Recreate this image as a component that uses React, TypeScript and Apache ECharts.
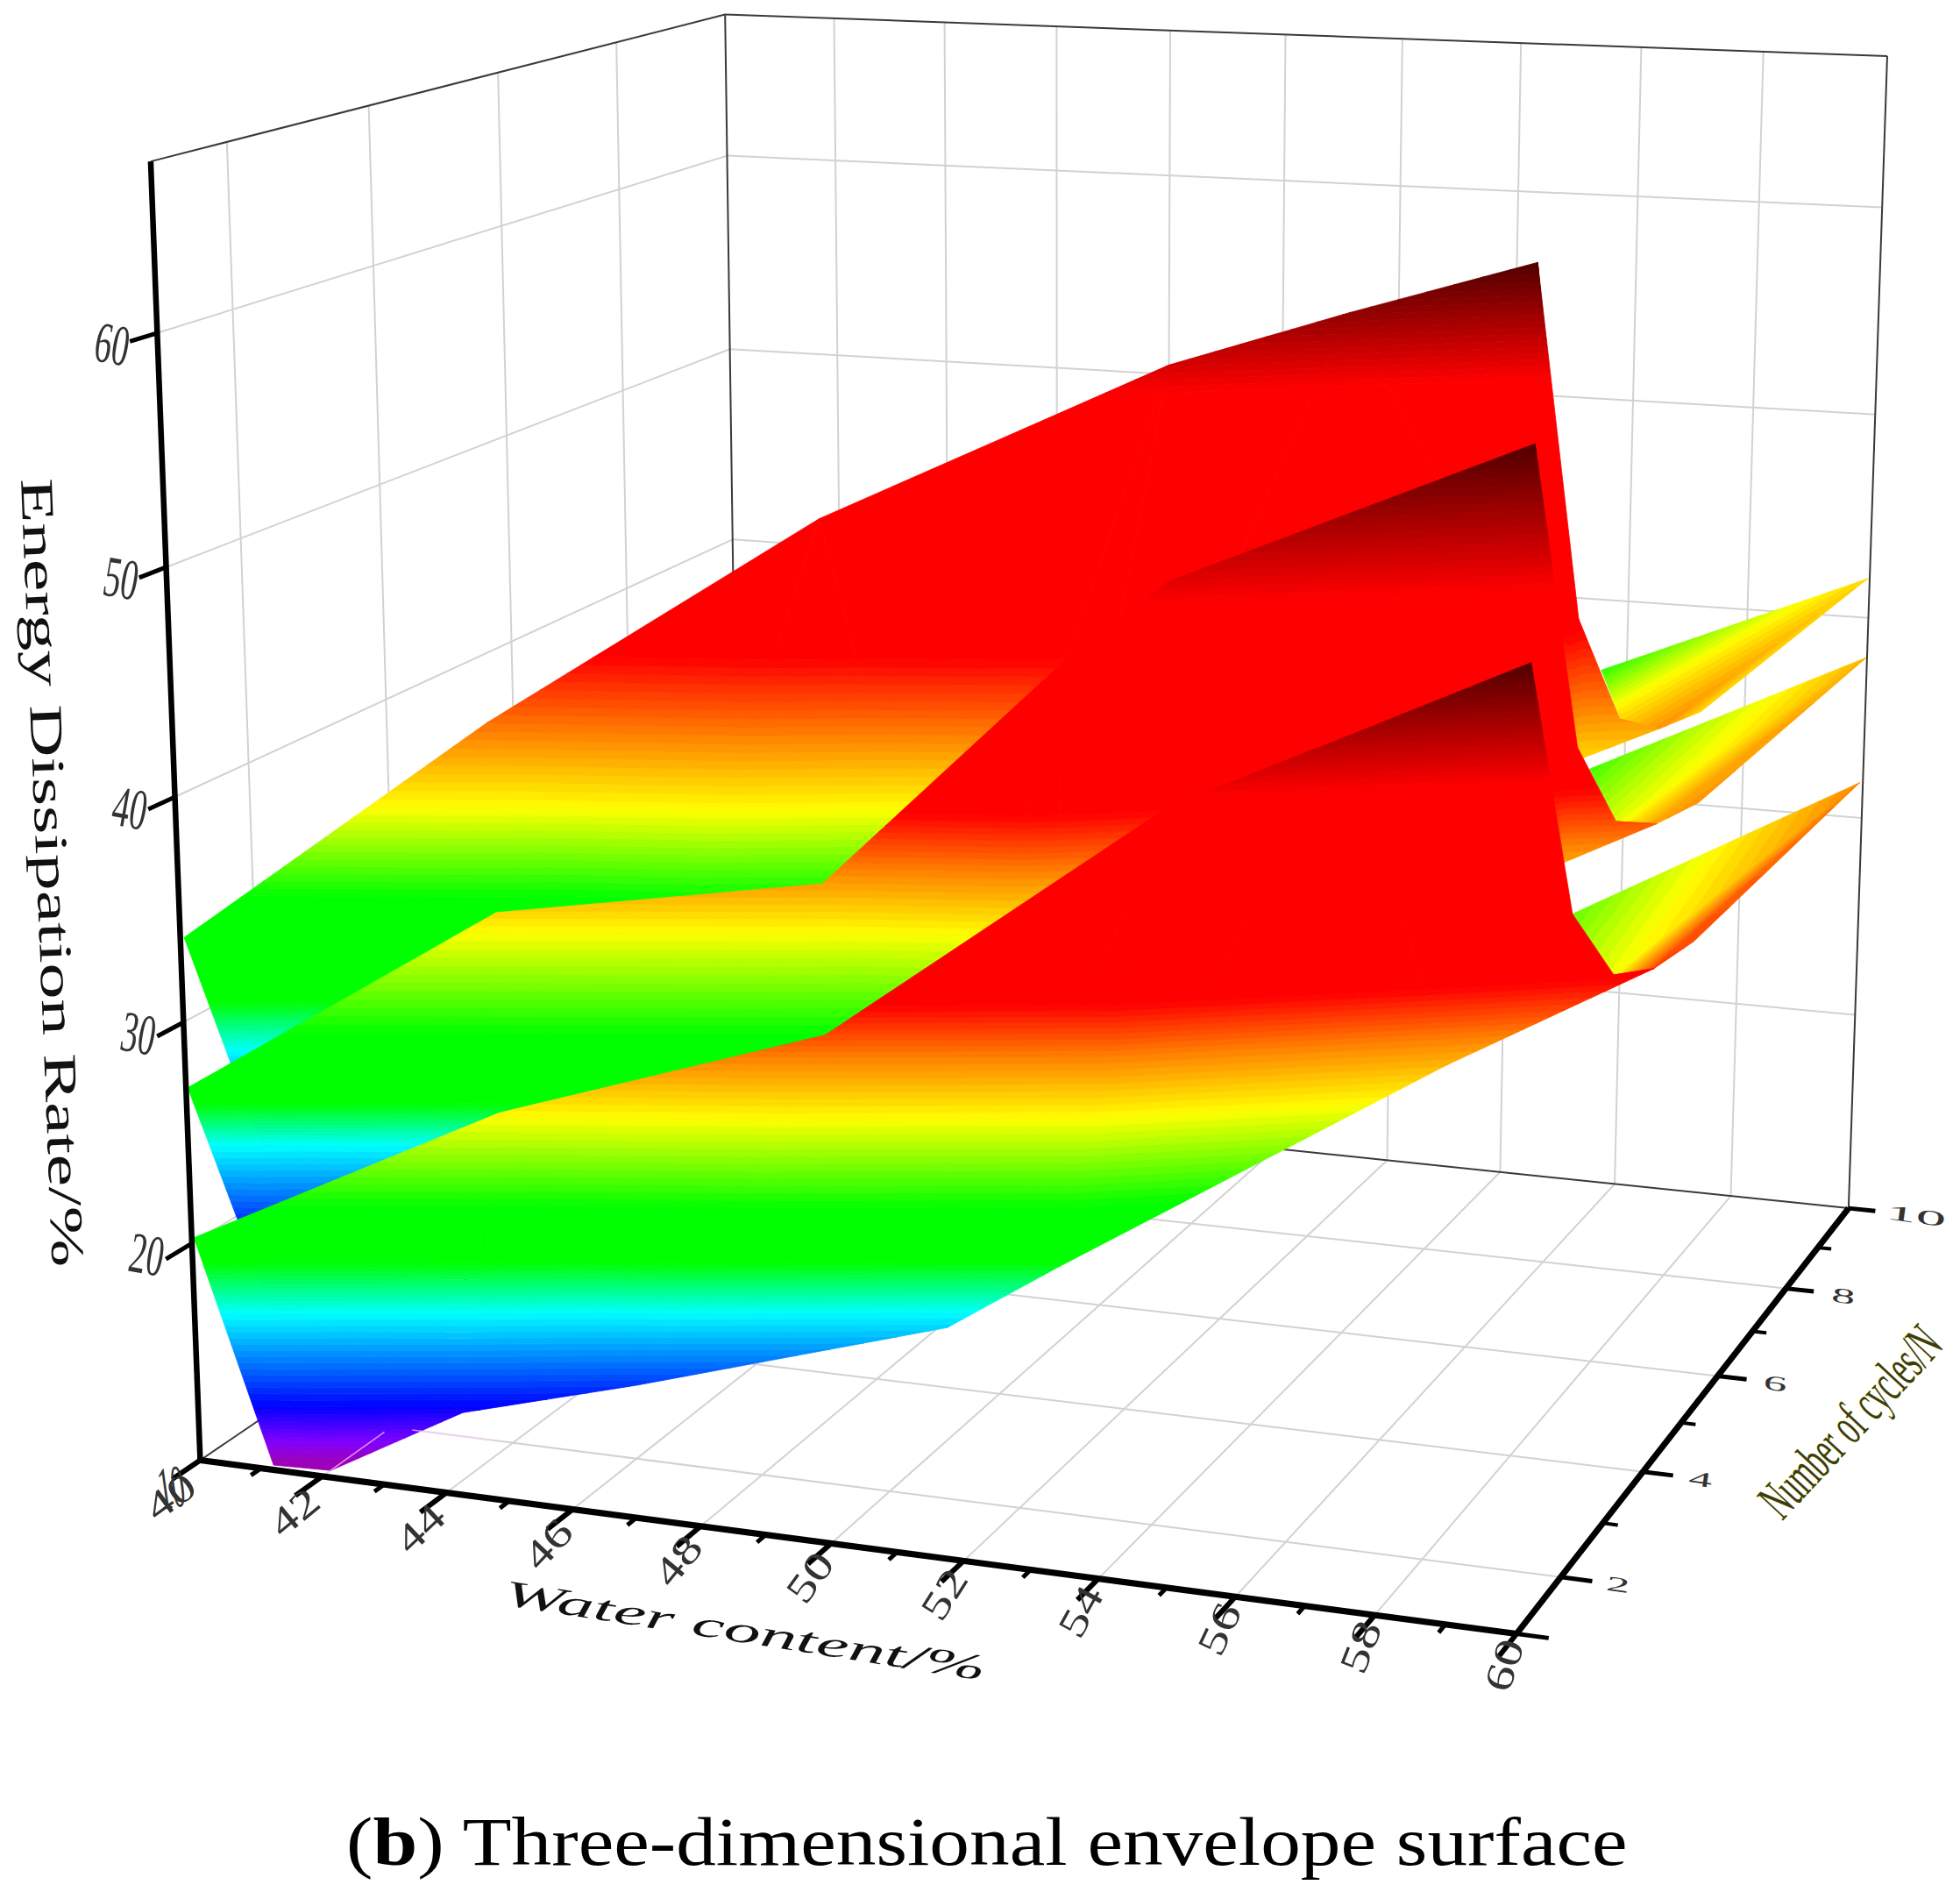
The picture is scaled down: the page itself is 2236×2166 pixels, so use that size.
import React, { useEffect, useRef } from "react";
import * as echarts from "echarts";

const VIEW_W = 1568, VIEW_H = 1519;
const WATER_MIN = 40, WATER_MAX = 60, N_MIN = 1, N_MAX = 10, E_MIN = 10, E_MAX = 67.2;

const waterTicks = [42, 44, 46, 48, 50, 52, 54, 56, 58];
const waterLabels = [40, 42, 44, 46, 48, 50, 52, 54, 56, 58, 60];
const waterMinor = [41, 43, 45, 47, 49, 51, 53, 55, 57, 59];
const cycleTicks = [2, 4, 6, 8];
const cycleLabels = [2, 4, 6, 8, 10];
const cycleMinor = [3, 5, 7, 9];
const energyTicks = [20, 30, 40, 50, 60];

// [water content %, number of cycles, energy dissipation rate %]
const frontTop = [[39.90,1.11,20.0],[44.10,1.83,25.6],[48.60,2.50,29.2],[53.23,3.28,39.3],[55.51,3.86,42.1],[57.82,4.43,45.0],[58.37,4.66,33.6],[58.91,4.83,30.7]];
const frontBottom = [[40.98,1.19,9.7],[41.79,1.30,9.5],[43.60,1.63,12.1],[45.99,2.05,13.3],[50.24,2.76,15.9],[51.72,3.00,18.6],[56.76,4.26,27.0],[59.43,4.96,30.9]];
const frontTail = [[59.72,10.47,31.0],[55.87,8.83,26.0],[58.14,6.14,28.2],[59.85,4.21,32.3],[59.99,5.01,32.2]];
const midTop = [[39.88,1.12,26.8],[44.18,1.78,34.7],[48.61,2.47,36.0],[52.01,2.79,46.0],[53.36,3.08,49.4],[58.00,4.13,54.9],[58.41,4.63,41.1],[58.92,4.78,37.7]];
const midBottom = [[40.97,1.26,16.6],[42.05,1.42,17.2],[43.57,1.71,19.4],[46.01,2.08,20.6],[50.23,2.79,23.1],[51.71,3.02,27.3],[58.23,4.64,35.9],[59.44,4.92,37.5]];
const midTail = [[59.75,10.49,37.3],[55.74,9.44,32.3],[58.00,6.37,35.0],[59.54,4.74,37.8],[59.86,5.28,38.0]];
const backTop = [[39.94,1.10,33.6],[44.26,1.64,43.3],[49.00,2.06,52.5],[53.74,2.58,59.2],[55.97,3.10,61.2],[58.29,3.64,63.1],[58.44,4.54,46.9],[58.95,4.76,42.3]];
const backBottom = [[40.89,1.27,24.0],[42.06,1.49,24.5],[43.61,1.74,26.2],[45.99,2.13,27.3],[50.24,2.80,30.7],[51.70,3.02,32.5],[58.48,4.67,40.6],[59.46,4.88,41.8]];
const backTail = [[59.71,10.53,41.2],[55.75,9.70,36.9],[58.55,5.46,41.2],[59.93,4.06,43.1],[59.55,5.85,41.2]];

// colour scale of each sheet: energy level at which each stop colour is reached
const stopColors = ["#a000b0","#8000ff","#0000ff","#00ffff","#00ff00","#00ff00","#ffff00","#ff8000","#ff0000","#ff0000","#500000"];
const stopSteps = [4,9,15,12,1,12,9,9,1,18];
const frontLevels = [9.8,10.8,12.4,16.6,18.9,21.4,25.4,28.2,30.5,39.6,45];
const midLevels = [16.5,18,20,24.2,26.1,29.3,33.8,36.7,39.2,48.4,54.9];
const backLevels = [21,23,25.1,28.5,30.7,35.5,39.5,42.9,46.3,58,63.1];
const frontTailLevels = frontLevels.map(v => v + 3);
const midTailLevels = midLevels.map(v => v + 1.8);
const backTailLevels = backLevels.map(v => v + 0.7);

// how the 3D box sits on the page: [water, cycles, energy, pageX, pageY]
const viewAnchors = [
  [40, 1, 10, 162, 1167], [60, 1, 10, 1213, 1306], [60, 10, 10, 1480, 966], [40, 10, 10, 590, 874],
  [40, 1, 67.2, 118, 127], [60, 10, 67.2, 1509, 45], [40, 10, 67.2, 582, 12], [40, 1, 60, 127, 268],
  [50, 1, 10, 665, 1237], [60, 6, 10, 1375, 1101], [60, 3, 10, 1281, 1218],
];

type V = number[];
const nu = (x: number) => (x - WATER_MIN) / (WATER_MAX - WATER_MIN);
const nv = (n: number) => (n - N_MIN) / (N_MAX - N_MIN);
const nw = (z: number) => (z - E_MIN) / (E_MAX - E_MIN);

function solveLinear(A: number[][], b: number[]) {
  const n = b.length; const M = A.map((r, i) => [...r, b[i]]);
  for (let c = 0; c < n; c++) {
    let p = c; for (let r = c + 1; r < n; r++) if (Math.abs(M[r][c]) > Math.abs(M[p][c])) p = r;
    [M[c], M[p]] = [M[p], M[c]];
    for (let r = 0; r < n; r++) if (r !== c) { const f = M[r][c] / M[c][c]; for (let k = c; k <= n; k++) M[r][k] -= f * M[c][k]; }
  }
  return M.map((r, i) => r[n] / r[i]);
}
function fitView() {
  const rows: number[][] = [], rhs: number[] = [];
  for (const [x, n, z, sx, sy] of viewAnchors) {
    const u = nu(x), v = nv(n), w = nw(z);
    rows.push([u,v,w,1,0,0,0,0,-sx*u,-sx*v,-sx*w]); rhs.push(sx);
    rows.push([0,0,0,0,u,v,w,1,-sy*u,-sy*v,-sy*w]); rhs.push(sy);
  }
  const ATA = Array.from({length:11},(_, i)=>Array.from({length:11},(_, j)=>rows.reduce((s,r)=>s+r[i]*r[j],0)));
  const ATb = Array.from({length:11},(_, i)=>rows.reduce((s,r,k)=>s+r[i]*rhs[k],0));
  return solveLinear(ATA, ATb);
}
const P = fitView();
function proj(x: number, n: number, z: number) {
  const u = nu(x), v = nv(n), w = nw(z);
  const d = P[8]*u + P[9]*v + P[10]*w + 1;
  return [(P[0]*u+P[1]*v+P[2]*w+P[3])/d, (P[4]*u+P[5]*v+P[6]*w+P[7])/d];
}

function hex(c: string) { return [1,3,5].map(i => parseInt(c.slice(i,i+2),16)); }
function makeBands(levels: number[]) {
  const out: { lo: number; hi: number; color: string }[] = [];
  stopSteps.forEach((steps, i) => {
    const a = hex(stopColors[i]), b = hex(stopColors[i+1]);
    for (let s = 0; s < steps; s++) {
      const t = (s + 0.5) / steps;
      const c = a.map((v, k) => Math.round(v + (b[k]-v)*t));
      out.push({ lo: levels[i] + (levels[i+1]-levels[i])*s/steps, hi: levels[i] + (levels[i+1]-levels[i])*(s+1)/steps, color: `rgb(${c.join(",")})` });
    }
  });
  out[0].lo = -Infinity; out[out.length-1].hi = Infinity;
  return out;
}
function clipZ(poly: V[], lim: number, keepAbove: boolean) {
  const out: V[] = [];
  const inside = (p: V) => keepAbove ? p[2] >= lim : p[2] <= lim;
  poly.forEach((p, i) => {
    const q = poly[(i+1) % poly.length];
    if (inside(p)) out.push(p);
    if (inside(p) !== inside(q)) {
      const t = (lim - p[2]) / (q[2] - p[2]);
      out.push(p.map((v, k) => v + (q[k]-v)*t));
    }
  });
  return out;
}

type Mark = any;
const marks: Mark[] = [];
const seg3 = (a: number[], b: number[], stroke: string, lineWidth: number) =>
  marks.push({ k: "line", pts: [proj(a[0],a[1],a[2]), proj(b[0],b[1],b[2])], stroke, lineWidth });

function addTris(tris: V[][], levels: number[]) {
  const bands = makeBands(levels);
  for (const b of bands) for (const t of tris) {
    let poly = t;
    if (b.lo !== -Infinity) poly = clipZ(poly, b.lo, true);
    if (poly.length && b.hi !== Infinity) poly = clipZ(poly, b.hi, false);
    if (poly.length >= 3) marks.push({ k: "poly", pts: poly.map(p => proj(p[0],p[1],p[2])), fill: b.color });
  }
}
// a sheet: its upper edge and lower edge, joined into triangles
function sheet(T: V[], B: V[]) {
  const top = [T[0],T[0],T[1],T[2],T[3],T[4],T[5],T[6],T[7],T[7]];
  const bot = [B[0],B[1],B[2],B[3],B[4],B[5],B[6],B[6],B[6],B[7]];
  const t: V[][] = [];
  for (let i = 0; i + 1 < top.length; i++) { t.push([top[i],bot[i],bot[i+1]]); t.push([top[i],bot[i+1],top[i+1]]); }
  return t;
}
function fan(v: V[]) { const t: V[][] = []; for (let i = 1; i + 1 < v.length; i++) t.push([v[0],v[i],v[i+1]]); return t; }

const measure = (() => {
  const c = document.createElement("canvas").getContext("2d")!;
  return (text: string, font: string) => { c.font = font; return c.measureText(text).width; };
})();
const SERIF = '"Liberation Serif", serif';
const text = (t: string, p: number[], rotDeg: number, sx: number, sy: number, font: string, fill: any, extra: any = {}) =>
  marks.push({ k: "text", t, p, rot: rotDeg*Math.PI/180, sx, sy, font, fill, extra });

function build() {
  const grid = "#d2d2d2", gw = 2, thin = "#3a3a3a";
  for (const z of energyTicks) { seg3([40,1,z],[40,10,z],grid,gw); seg3([40,10,z],[60,10,z],grid,gw); }
  for (const n of cycleTicks) { seg3([40,n,E_MIN],[40,n,E_MAX],grid,gw); seg3([40,n,E_MIN],[60,n,E_MIN],grid,gw); }
  for (const x of waterTicks) { seg3([x,10,E_MIN],[x,10,E_MAX],grid,gw); seg3([x,1,E_MIN],[x,10,E_MIN],grid,gw); }
  const A=[40,1,E_MIN],B=[60,1,E_MIN],C=[60,10,E_MIN],D=[40,10,E_MIN],At=[40,1,E_MAX],Ct=[60,10,E_MAX],Dt=[40,10,E_MAX];
  seg3(At,Dt,thin,2); seg3(Dt,Ct,thin,2); seg3(Ct,C,thin,2); seg3(D,Dt,thin,2); seg3(A,D,thin,2); seg3(D,C,thin,2);

  addTris(fan(backTail), backTailLevels);
  addTris(sheet(backTop, backBottom), backLevels);
  addTris(fan(midTail), midTailLevels);
  addTris(sheet(midTop, midBottom), midLevels);
  addTris(fan(frontTail), frontTailLevels);
  addTris(sheet(frontTop, frontBottom), frontLevels);

  seg3([42,1,E_MIN],[42,1.9,E_MIN],"rgba(255,210,255,0.7)",1.6);
  seg3([42.35,2,E_MIN],[43.7,2,E_MIN],"rgba(255,210,255,0.7)",1.6);

  seg3(A,At,"#000",6.5); seg3(A,B,"#000",7); seg3(B,C,"#000",7);
  for (const z of [10, ...energyTicks]) seg3([40,1,z],[40,0.65,z],"#000",5);
  for (const x of waterLabels) seg3([x,1,E_MIN],[x,0.62,E_MIN],"#000",6);
  for (const x of waterMinor) seg3([x,1,E_MIN],[x,0.86,E_MIN],"#000",5);
  for (const n of [1, ...cycleLabels]) seg3([60,n,E_MIN],[60.45,n,E_MIN],"#000",5);
  for (const n of cycleMinor) seg3([60,n,E_MIN],[60.22,n,E_MIN],"#000",4);

  const tf = `30px ${SERIF}`;
  energyTicks.forEach(z => { const b = proj(40,1,z); text(String(z), [b[0]-36,b[1]+9], 10, 1.3, 2.2, tf, "#333"); });
  waterLabels.forEach((x,i) => {
    const b = proj(x,1,E_MIN), t = i/10;
    text(String(x), [b[0]-24+14*t, b[1]+29-4*t], -(36+36*t), 2, 1.5, tf, "#333");
  });
  text("10",[137,1190],-8,1.0,2.3,tf,"#333");
  cycleLabels.forEach(n => {
    const b = proj(60,n,E_MIN);
    text(String(n), [b[0]+(n===10?54:46), b[1]+6], 8, n===10?2.3:1.8, 0.8, tf, "#333");
  });

  const yFont = `56px ${SERIF}`;
  const yT = "Energy Dissipation Rate/%";
  text(yT,[42,698],87.7,900/measure(yT,yFont),0.95,yFont,"#111");
  const xFont = `italic 44px ${SERIF}`;
  const xT = "Water content/%";
  text(xT,[596,1304],9,556/measure(xT,xFont),0.95,xFont,"#111");
  const nFont = `30px ${SERIF}`;
  const nT = "Number of cycles/N";
  text(nT,[1480,1137],-47,272/measure(nT,nFont),2.1,nFont,"#3c3c14",{ stroke:"rgba(255,255,0,0.45)", lineWidth:0.5 });

  const tiFont = `78px ${SERIF}`, tiBold = `bold 78px ${SERIF}`;
  const rest = ") Three-dimensional envelope surface";
  const total = measure("(", tiFont) + measure("b", tiBold) + measure(rest, tiFont);
  const sc = 1463 / total, toView = 1568 / 2236, left = { align: "left" };
  let tx = 277;
  text("(", [tx,1473], 0, sc, 1, tiFont, "#000", left); tx += measure("(", tiFont)*sc*toView;
  text("b", [tx,1473], 0, sc, 1, tiBold, "#000", left); tx += measure("b", tiBold)*sc*toView;
  text(rest, [tx,1473], 0, sc, 1, tiFont, "#000", left);
}
build();

export default function App() {
  const ref = useRef<HTMLDivElement>(null);
  useEffect(() => {
    document.body.style.margin = "0";
    const chart = echarts.init(ref.current!, undefined, { renderer: "svg" });
    chart.setOption({
      animation: false,
      backgroundColor: "#ffffff",
      grid: { left: 0, right: 0, top: 0, bottom: 0 },
      xAxis: { type: "value", min: 0, max: VIEW_W, show: false },
      yAxis: { type: "value", min: 0, max: VIEW_H, inverse: true, show: false },
      series: [{
        type: "custom", coordinateSystem: "cartesian2d", silent: true, clip: false, progressive: 0,
        data: marks.map((_, i) => [i, 0]),
        renderItem: (params: any, api: any) => {
          const m = marks[params.dataIndex];
          if (m.k === "poly") return { type:"polygon", shape:{ points:m.pts.map((p: number[]) => api.coord(p)) }, style:{ fill:m.fill, stroke:m.fill, lineWidth:0.8 } };
          if (m.k === "line") return { type:"polyline", shape:{ points:m.pts.map((p: number[]) => api.coord(p)) }, style:{ fill:"none", stroke:m.stroke, lineWidth:m.lineWidth } };
          const c = api.coord(m.p);
          return { type:"text", x:c[0], y:c[1], rotation:-m.rot, scaleX:m.sx, scaleY:m.sy,
            style:{ text:m.t, font:m.font, fill:m.fill, align:"center", verticalAlign:"middle", ...m.extra } };
        },
      }],
    });
    return () => chart.dispose();
  }, []);
  return <div ref={ref} style={{ width: 2236, height: 2166 }} />;
}
